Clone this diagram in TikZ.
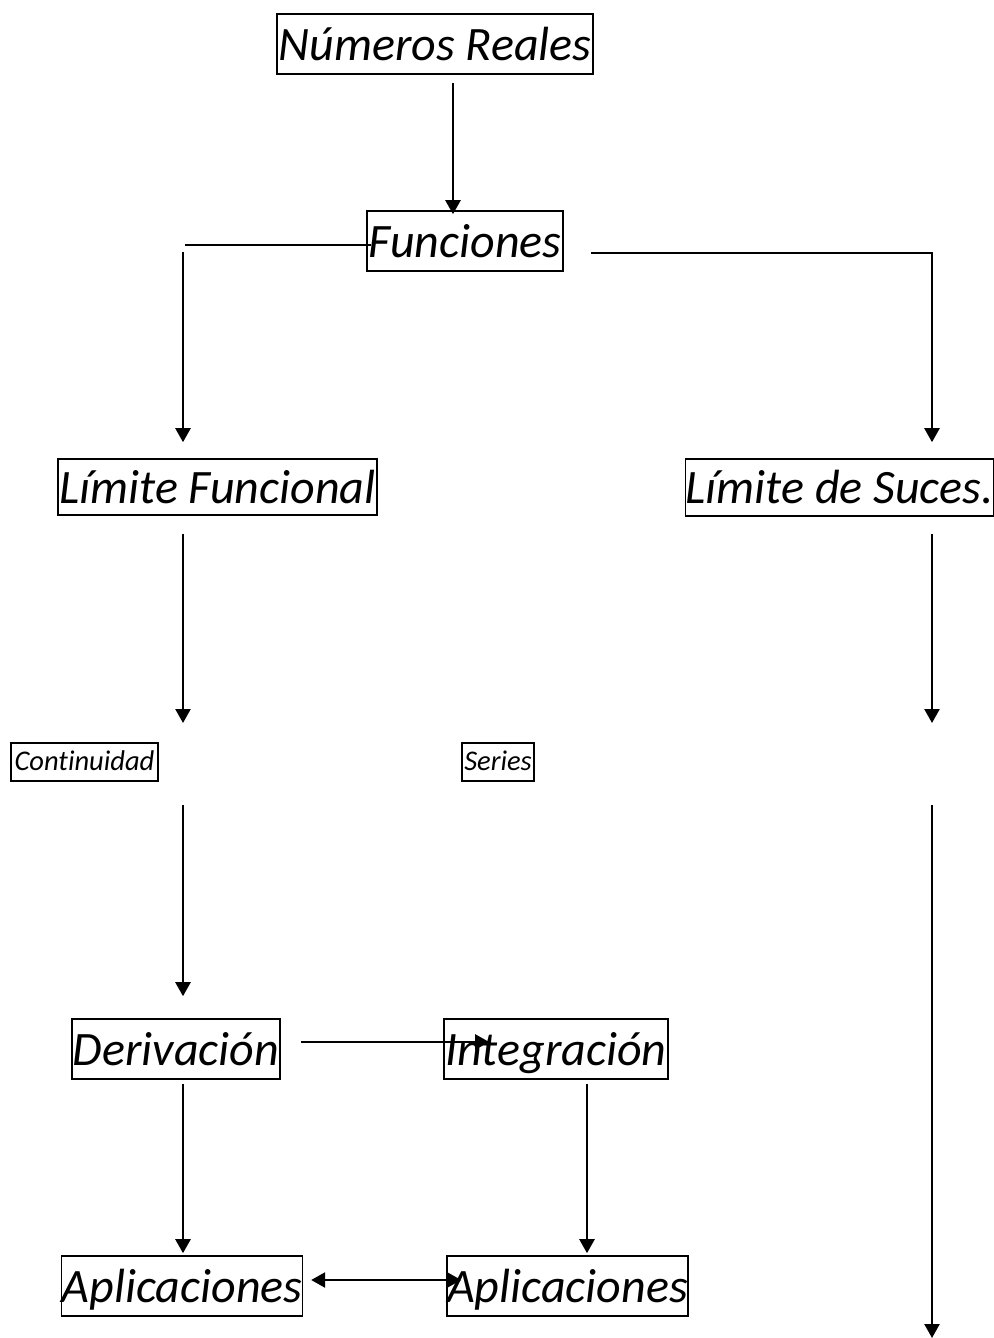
\documentclass[tikz,border=0pt]{standalone}
\usepackage{fontspec}
\setmainfont{Carlito}[Ligatures=NoCommon]
\usetikzlibrary{arrows.meta,calc}
\begin{document}
\begin{tikzpicture}[x=1pt,y=-1pt,
  bigbox/.style={draw,line width=1.6pt,inner sep=0pt,text height=42pt,text depth=10pt,font=\fontsize{48}{52}\selectfont\itshape},
  smallbox/.style={draw,line width=1.6pt,inner sep=0pt,text height=22pt,text depth=6pt,font=\fontsize{28.5}{32}\selectfont\itshape},
  arr/.style={line width=2.4pt,-{Triangle[width=15pt,length=14pt]}},
  darr/.style={line width=2.4pt,{Triangle[width=15pt,length=14pt]}-{Triangle[width=15pt,length=14pt]}},
  thin line/.style={line width=1.5pt}]
\fill[white] (0,0) rectangle (993,1338);
\useasboundingbox (0,0) rectangle (993,1338);
\node[bigbox,minimum width=316pt,minimum height=60pt] (nr) at (435,44) {Números Reales};
\node[bigbox,minimum width=196pt,minimum height=60pt] (fn) at (465,241) {Funciones};
\node[bigbox,minimum width=319pt,minimum height=56pt] (lf) at (217.5,487) {Límite Funcional};
\node[bigbox,minimum width=305pt,minimum height=57pt] (ls) at (839.5,487.5) {Límite de Suces.};
\node[smallbox,minimum width=147pt,minimum height=38pt] (co) at (84.5,762) {Continuidad};
\node[smallbox,minimum width=72pt,minimum height=38pt] (se) at (498,762) {Series};
\node[bigbox,minimum width=208pt,minimum height=60pt] (de) at (176,1049) {Derivación};
\node[bigbox,minimum width=224pt,minimum height=60pt] (in) at (556,1049) {Integración};
\node[bigbox,minimum width=240pt,minimum height=60pt] (a1) at (182,1286) {Aplicaciones};
\node[bigbox,minimum width=241pt,minimum height=60pt] (a2) at (567.5,1286) {Aplicaciones};
\coordinate (c1) at (185,245);
\coordinate (c2) at (183,252);
\coordinate (c3) at (183,723);
\coordinate (c4) at (932,723);
\coordinate (c5) at (183,805);
\coordinate (c6) at (932,805);
\coordinate (c7) at (932,1338);
\draw[arr] ($(nr.south)+(18,8)$) -- ($(fn.north)+(-12,4)$);
\draw[thin line] ($(fn.west)+(5,4)$) -- (c1);
\draw[arr] (c2) -- ($(lf.north)+(-34.5,-16)$);
\draw[arr] ($(fn.east)+(27,12)$) -| ($(ls.north)+(92.5,-16)$);
\draw[arr] ($(lf.south)+(-34.5,18)$) -- (c3);
\draw[arr] ($(ls.south)+(92.5,17.5)$) -- (c4);
\draw[arr] (c5) -- ($(de.north)+(7,-22)$);
\draw[arr] (c6) -- (c7);
\draw[arr] ($(de.east)+(20,-7)$) -- ($(in.west)+(46,-7)$);
\draw[arr] ($(de.south)+(7,4)$) -- ($(a1.north)+(1,-2)$);
\draw[arr] ($(in.south)+(31,4)$) -- ($(a2.north)+(19.5,-2)$);
\draw[darr] ($(a1.east)+(8,-6)$) -- ($(a2.west)+(15,-6)$);
\end{tikzpicture}
\end{document}
